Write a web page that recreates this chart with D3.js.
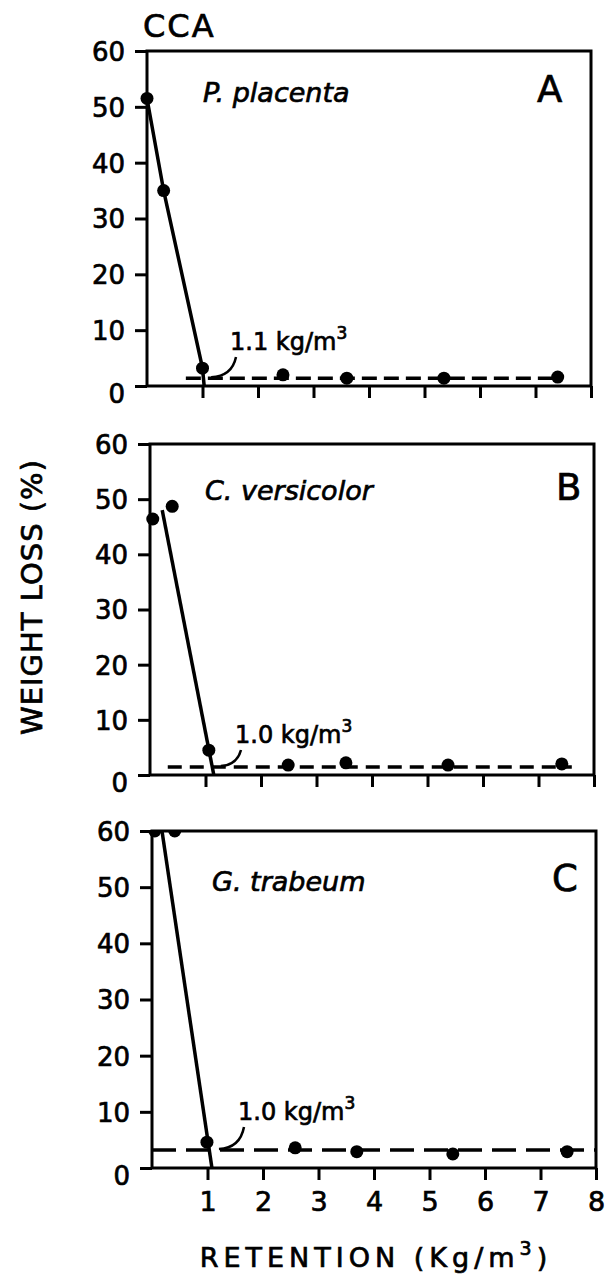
<!DOCTYPE html>
<html>
<head>
<meta charset="utf-8">
<script src="https://cdn.jsdelivr.net/npm/d3@7"></script>
<style>
  body { margin: 0; background: #fff; }
  svg { display: block; }
  text { font-family: "DejaVu Sans", sans-serif; fill: #000; stroke: #000; stroke-width: 0.7px; }
</style>
</head>
<body>
<svg id="drawing_region"></svg>
<script>
// values
const retentionTicks = [1, 2, 3, 4, 5, 6, 7, 8];
const weightTicks = [0, 10, 20, 30, 40, 50, 60];

const ppPoints = [[0, 51.5], [0.3, 35], [1.0, 3.2], [2.45, 2.0], [3.6, 1.4], [5.35, 1.4], [7.4, 1.6]];
const ppTrend = [[0, 51.5], [0.3, 35], [1.0, 3.2], [1.03, 0]];
const ppBaseline = [[0.7, 1.4], [7.4, 1.4]];

const cvPoints = [[0.05, 46.4], [0.4, 48.7], [1.06, 4.5], [2.49, 1.8], [3.53, 2.2], [5.37, 1.8], [7.42, 2.0]];
const cvTrend = [[0.22, 48], [1.15, 0]];
const cvBaseline = [[0.32, 1.45], [7.6, 1.45]];

const gtPoints = [[0.05, 60], [0.41, 60], [0.99, 4.6], [2.58, 3.6], [3.69, 2.9], [5.42, 2.5], [7.48, 2.9]];
const gtTrend = [[0.18, 60], [1.08, 0]];
const gtBaseline = [[0, 3.2], [8, 3.2]];

const species = ["P. placenta", "C. versicolor", "G. trabeum"];
const panelLetters = ["A", "B", "C"];
const thresholds = ["1.1", "1.0", "1.0"];

// layout of the three stacked panels
const panels = [
    { left: 147, right: 591, top: 51, bottom: 386, points: ppPoints, trend: ppTrend, base: ppBaseline,
      dash: "15,7", nameX: 203, letterX: 537, nameY: 102, noteX: 230, noteY: 350, labels: false },
    { left: 150, right: 594, top: 444, bottom: 775, points: cvPoints, trend: cvTrend, base: cvBaseline,
      dash: "14,8", nameX: 205, letterX: 556, nameY: 500, noteX: 235, noteY: 743, labels: false },
    { left: 152, right: 596, top: 831, bottom: 1168, points: gtPoints, trend: gtTrend, base: gtBaseline,
      dash: "24,10", nameX: 212, letterX: 552, nameY: 891, noteX: 238, noteY: 1120, labels: true }
];

const svg = d3.select('#drawing_region')
    .attr('width', 609)
    .attr('height', 1276);

svg.append('rect').attr('width', 609).attr('height', 1276).attr('fill', '#fff');

const line = d3.line();

panels.forEach((p, i) => {
    const x = d3.scaleLinear().domain([0, 8]).range([p.left, p.right]);
    const y = d3.scaleLinear().domain([0, 60]).range([p.bottom, p.top]);
    const g = svg.append('g');

    // y axis
    const yAxis = g.append('g')
        .attr('transform', `translate(${p.left},0)`)
        .call(d3.axisLeft(y).tickValues(weightTicks).tickSize(12).tickPadding(10));
    yAxis.select('.domain').remove();
    yAxis.selectAll('line').attr('stroke', '#000').attr('stroke-width', 3);
    yAxis.selectAll('text').attr('font-size', 26)
        .attr('dy', d => d === 0 ? '0.64em' : '0.36em');

    // x axis
    const xAxis = g.append('g')
        .attr('transform', `translate(0,${p.bottom})`)
        .call(d3.axisBottom(x).tickValues(retentionTicks).tickSize(12).tickPadding(12)
            .tickFormat(p.labels ? d3.format('d') : ''));
    xAxis.select('.domain').remove();
    xAxis.selectAll('line').attr('stroke', '#000').attr('stroke-width', 3);
    xAxis.selectAll('text').attr('font-size', 27);

    // frame
    g.append('rect')
        .attr('x', p.left).attr('y', p.top)
        .attr('width', p.right - p.left).attr('height', p.bottom - p.top)
        .attr('fill', 'none').attr('stroke', '#000').attr('stroke-width', 3);

    const clipId = 'clip' + i;
    svg.append('clipPath').attr('id', clipId)
        .append('rect')
        .attr('x', p.left - 15).attr('y', p.top)
        .attr('width', p.right - p.left + 30).attr('height', p.bottom - p.top + 30);

    const plot = g.append('g').attr('clip-path', `url(#${clipId})`);

    plot.append('path')
        .attr('d', line(p.base.map(d => [x(d[0]), y(d[1])])))
        .attr('fill', 'none').attr('stroke', '#000')
        .attr('stroke-width', 3.5).attr('stroke-dasharray', p.dash);

    plot.append('path')
        .attr('d', line(p.trend.map(d => [x(d[0]), y(d[1])])))
        .attr('fill', 'none').attr('stroke', '#000').attr('stroke-width', 3.5);

    plot.selectAll('circle')
        .data(p.points)
        .enter()
        .append('circle')
        .attr('cx', d => x(d[0]))
        .attr('cy', d => y(d[1]))
        .attr('r', 6.5)
        .attr('fill', '#000');

    // leader from line to note
    const trendEnd = p.trend[p.trend.length - 1];
    const sx = x(trendEnd[0]) + 7, sy = y(p.base[0][1]) - 1;
    const ex = p.noteX + 6, ey = p.noteY + 7;
    const lead = d3.path();
    lead.moveTo(sx, sy);
    lead.quadraticCurveTo(ex - 4, sy - 1, ex, ey);
    g.append('path').attr('d', lead.toString())
        .attr('fill', 'none').attr('stroke', '#000').attr('stroke-width', 2.5);

    const note = g.append('text')
        .attr('x', p.noteX).attr('y', p.noteY)
        .attr('font-size', 24);
    note.append('tspan').text(thresholds[i] + ' kg/m');
    note.append('tspan').attr('dy', -11).attr('font-size', 17).text('3');

    g.append('text')
        .attr('x', p.nameX).attr('y', p.nameY)
        .attr('font-size', 27).attr('font-style', 'italic')
        .text(species[i]);

    g.append('text')
        .attr('x', p.letterX).attr('y', p.nameY)
        .attr('font-size', 37)
        .text(panelLetters[i]);
});

svg.append('text')
    .attr('x', 143).attr('y', 37)
    .attr('font-size', 32).attr('letter-spacing', 2)
    .text('CCA');

svg.append('text')
    .attr('transform', 'translate(42,597) rotate(-90)')
    .attr('text-anchor', 'middle')
    .attr('font-size', 29).attr('letter-spacing', 1)
    .text('WEIGHT LOSS (%)');

const xTitle = svg.append('text')
    .attr('x', 376).attr('y', 1267)
    .attr('text-anchor', 'middle')
    .attr('font-size', 27).attr('letter-spacing', 5);
xTitle.append('tspan').text('RETENTION (Kg/m');
xTitle.append('tspan').attr('dy', -12).attr('font-size', 19).text('3');
xTitle.append('tspan').attr('dy', 12).text(')');
</script>
</body>
</html>
